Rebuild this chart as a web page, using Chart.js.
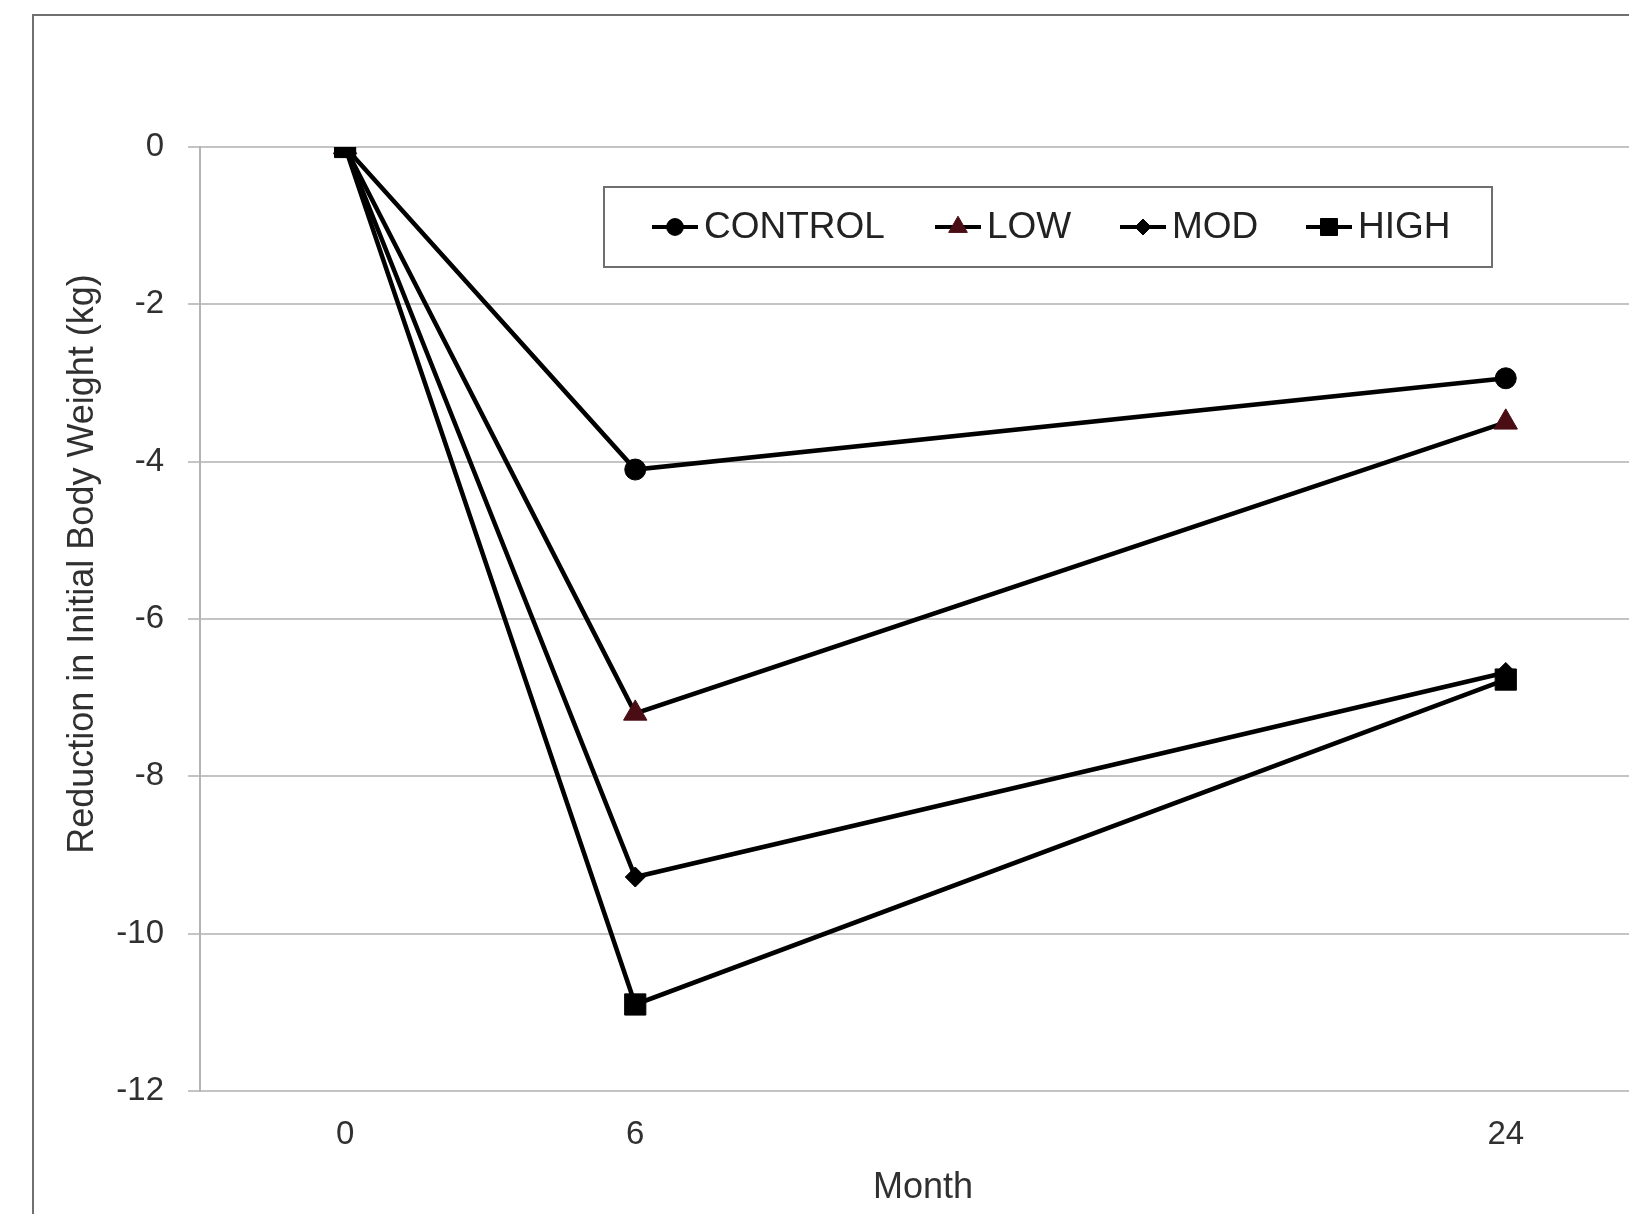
<!DOCTYPE html>
<html>
<head>
    <title>Reduction in Initial Body Weight</title>
    <script src="https://cdn.jsdelivr.net/npm/chart.js"></script>
    <style>
        html, body { margin: 0; padding: 0; background: #fff; overflow: hidden; }
        #frame { position: absolute; left: 32px; top: 14px; width: 1800px; height: 1400px; border: 2px solid #707070; }
        #wrap { position: absolute; left: 0; top: 0; width: 1662px; height: 1214px; }
    </style>
</head>
<body>
    <div id="frame"></div>
    <div id="wrap"><canvas id="myChart"></canvas></div>

    <script>
        // data
        var months = [0, 6, 24];
        var seriesNames = ['CONTROL', 'LOW', 'MOD', 'HIGH'];
        var controlVals = [0, -4.1, -2.94];
        var lowVals = [0, -7.2, -3.5];
        var modVals = [0, -9.28, -6.68];
        var highVals = [0, -10.9, -6.77];
        var yMin = -12, yMax = 0, yStep = 2;

        var FONT = '"Liberation Sans", Arial, sans-serif';
        var TEXT = '#303030';

        function pts(vals) {
            return months.map(function (m, i) { return { x: m, y: vals[i] }; });
        }

        var styles = [
            { pointStyle: 'circle', radius: 10.5, color: '#000000' },
            { pointStyle: 'triangle', radius: 13.5, color: '#4a0d14' },
            { pointStyle: 'rectRot', radius: 10, color: '#000000' },
            { pointStyle: 'rect', radius: 15, color: '#000000' }
        ];
        var allVals = [controlVals, lowVals, modVals, highVals];

        var datasets = seriesNames.map(function (name, i) {
            return {
                label: name,
                data: pts(allVals[i]),
                borderColor: '#000000',
                borderWidth: 4.5,
                tension: 0,
                fill: false,
                pointStyle: styles[i].pointStyle,
                pointRadius: styles[i].radius,
                pointBackgroundColor: styles[i].color,
                pointBorderColor: styles[i].color,
                pointBorderWidth: 1,
                order: 3 - i   // HIGH ends up on top
            };
        });

        // legend box and rotated y title, drawn by hand to sit where the original has them
        var extras = {
            id: 'extras',
            afterDraw: function (chart) {
                var ctx = chart.ctx;
                ctx.save();

                // y axis title
                ctx.translate(83, 564);
                ctx.rotate(-Math.PI / 2);
                ctx.font = '36px ' + FONT;
                ctx.fillStyle = TEXT;
                ctx.textAlign = 'center';
                ctx.textBaseline = 'middle';
                ctx.fillText('Reduction in Initial Body Weight (kg)', 0, 0);
                ctx.restore();

                // legend
                ctx.save();
                ctx.fillStyle = '#ffffff';
                ctx.fillRect(604, 187, 888, 80);
                ctx.strokeStyle = '#6f6f6f';
                ctx.lineWidth = 2;
                ctx.strokeRect(604, 187, 888, 80);

                var starts = [652, 935, 1120, 1306];
                var cy = 227;
                ctx.font = '37px ' + FONT;
                ctx.textBaseline = 'middle';
                ctx.textAlign = 'left';
                chart.data.datasets.forEach(function (ds, i) {
                    var x0 = starts[i];
                    ctx.strokeStyle = '#000000';
                    ctx.lineWidth = 4;
                    ctx.beginPath();
                    ctx.moveTo(x0, cy);
                    ctx.lineTo(x0 + 46, cy);
                    ctx.stroke();

                    ctx.fillStyle = ds.pointBackgroundColor;
                    ctx.strokeStyle = ds.pointBorderColor;
                    ctx.lineWidth = 1;
                    Chart.helpers.drawPoint(ctx, {
                        pointStyle: ds.pointStyle,
                        radius: ds.pointRadius * 0.8,
                        borderWidth: 1,
                        rotation: 0
                    }, x0 + 23, cy);

                    ctx.fillStyle = '#222222';
                    ctx.fillText(ds.label, x0 + 52, cy + 1);
                });
                ctx.restore();
            }
        };

        var ctx = document.getElementById('myChart').getContext('2d');
        var chart = new Chart(ctx, {
            type: 'line',
            data: { datasets: datasets },
            options: {
                responsive: true,
                maintainAspectRatio: false,
                animation: false,
                layout: { padding: { top: 147, right: 10, bottom: 0, left: 0 } },
                plugins: {
                    legend: { display: false },
                    tooltip: { enabled: false }
                },
                scales: {
                    x: {
                        type: 'linear',
                        min: -3,
                        max: 26.9,
                        afterBuildTicks: function (s) {
                            s.ticks = months.map(function (m) { return { value: m }; });
                        },
                        afterFit: function (s) { s.height = 123; },
                        grid: { display: false, drawTicks: false },
                        border: { display: false },
                        ticks: { padding: 24, color: TEXT, font: { family: FONT, size: 33 } },
                        title: {
                            display: true,
                            text: 'Month',
                            color: TEXT,
                            font: { family: FONT, size: 36 },
                            padding: { top: 0, bottom: 4 }
                        }
                    },
                    y: {
                        min: yMin,
                        max: yMax,
                        afterFit: function (s) { s.width = 200; },
                        ticks: { stepSize: yStep, padding: 24, color: TEXT, font: { family: FONT, size: 33 } },
                        grid: { color: '#c4c4c4', lineWidth: 2, tickLength: 12 },
                        border: { color: '#b4b4b4', width: 2 }
                    }
                }
            },
            plugins: [extras]
        });
    </script>
</body>
</html>
